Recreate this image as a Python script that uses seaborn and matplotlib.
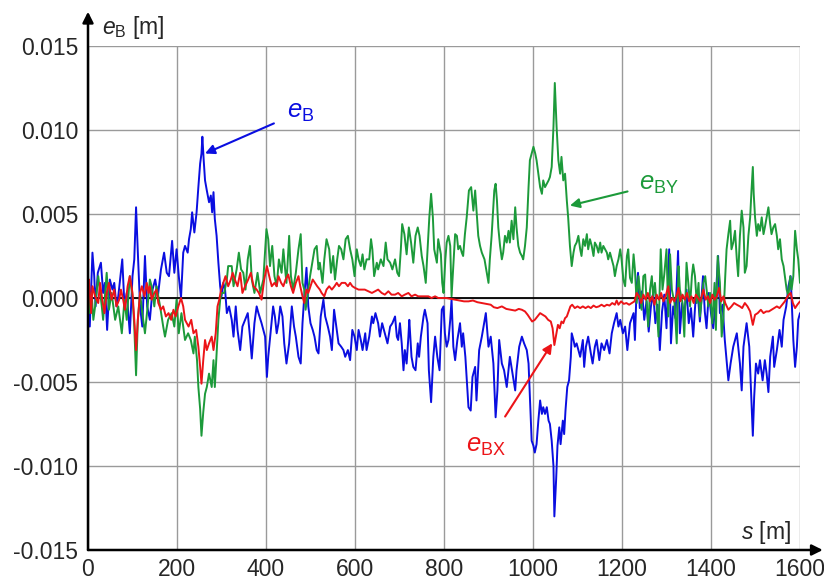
import numpy as np
import pandas as pd
import matplotlib
matplotlib.use("Agg")
import matplotlib.pyplot as plt
import seaborn as sns

# ---------------- data (s in m, e in mm) ----------------
blue_pts = [(0,-0.5),(4,-1.7),(10,2.7),(14,1.3),(17,-0.5),(22,1.5),(29,2.1),(34,0.3),(38,0.9),(43,-1.9),(49,1.1),(55,0.5),(59,0.9),(64,-0.5),(68,0.1),(77,2.3),(82,-0.5),(87,0.3),(94,-2.1),(100,1.3),(104,2.3),(108,5.4),(112,2.7),(117,-0.5),(122,-1.7),(128,2.5),(133,-0.5),(139,-1.3),(145,0.5),(151,1.1),(157,0.1),(164,1.7),(171,2.7),(177,1.5),(182,1.3),(189,3.4),(194,1.5),(199,2.9),(204,1.3),(209,0.0),(214,2.7),(218,3.1),(224,2.7),(227,3.5),(231,4.1),(234,5.1),(239,3.9),(244,5.1),(248,6.6),(252,8.0),(255,8.6),(257,9.6),(260,8.2),(263,7.0),(267,6.4),(272,5.7),(276,6.1),(279,5.1),(282,6.3),(285,4.7),(289,3.7),(293,2.1),(297,0.7),(300,0.1),(304,0.9),(308,0.5),(312,-0.9),(317,-0.5),(323,-1.3),(327,-2.3),(332,-0.5),(336,-1.9),(342,-3.1),(347,-1.7),(353,-1.3),(359,-0.9),(364,-2.3),(368,-3.6),(374,-1.5),(379,-0.5),(383,-0.9),(390,-1.5),(398,-2.3),(402,-4.7),(405,-3.5),(411,-1.9),(416,-0.5),(420,-1.1),(424,-2.1),(428,-1.5),(432,-0.5),(437,-1.1),(441,-2.7),(446,-3.9),(452,-2.7),(458,-0.5),(463,-1.7),(467,-2.3),(473,-3.5),(478,-3.9),(482,-1.5),(486,0.1),(491,1.8),(495,-0.5),(500,-1.5),(505,-1.9),(509,-2.3),(514,-3.1),(518,-3.3),(523,-1.1),(529,-0.1),(533,-1.1),(539,-1.7),(544,-2.3),(548,-3.1),(553,-0.7),(557,-1.5),(563,-2.7),(569,-2.9),(574,-3.1),(578,-3.5),(584,-3.1),(589,-3.7),(594,-1.9),(599,-2.3),(604,-3.1),(608,-1.9),(613,-2.5),(617,-3.1),(623,-2.1),(626,-3.1),(632,-2.3),(638,-1.1),(641,-1.5),(646,-0.9),(652,-1.5),(656,-2.3),(661,-1.5),(667,-2.1),(673,-2.7),(679,-1.7),(684,-1.5),(690,-1.1),(694,-2.3),(697,-2.5),(701,-1.5),(705,-2.7),(709,-4.3),(712,-3.1),(716,-3.9),(720,-2.3),(722,-1.3),(727,-3.5),(731,-4.1),(736,-4.3),(741,-2.7),(744,-3.5),(748,-2.3),(754,-1.1),(757,-0.7),(763,-1.5),(766,-4.3),(771,-6.2),(776,-3.5),(780,-2.3),(785,-3.5),(790,-4.3),(795,-0.7),(799,-0.5),(802,-2.1),(806,-2.9),(810,-2.5),(814,-1.3),(817,-0.1),(821,-2.9),(825,-3.7),(830,-2.5),(836,-1.5),(840,-2.9),(843,-2.1),(848,-3.5),(855,-6.5),(860,-6.7),(864,-4.7),(870,-4.1),(873,-6.1),(879,-3.1),(885,-2.3),(890,-1.5),(894,-0.9),(900,-2.9),(905,-2.3),(911,-3.9),(916,-7.1),(920,-5.5),(924,-2.5),(930,-3.9),(935,-4.3),(941,-5.3),(945,-4.3),(948,-3.5),(954,-4.5),(960,-5.5),(963,-4.3),(969,-2.9),(975,-2.3),(980,-2.7),(986,-3.1),(990,-3.9),(993,-5.9),(997,-8.5),(1001,-8.8),(1004,-9.2),(1008,-8.7),(1012,-7.3),(1016,-6.1),(1020,-6.9),(1023,-6.5),(1027,-6.9),(1031,-6.5),(1035,-7.3),(1038,-7.5),(1042,-8.5),(1046,-10.0),(1048,-13.0),(1052,-10.8),(1055,-8.8),(1059,-7.7),(1062,-8.7),(1067,-7.3),(1070,-8.1),(1073,-6.7),(1077,-5.3),(1081,-4.9),(1085,-3.5),(1087,-2.1),(1091,-2.5),(1094,-2.9),(1098,-2.7),(1106,-3.5),(1112,-2.5),(1115,-4.1),(1119,-2.9),(1124,-2.3),(1130,-3.3),(1134,-3.9),(1139,-2.9),(1143,-2.5),(1149,-3.7),(1154,-2.7),(1160,-3.1),(1166,-2.5),(1172,-3.3),(1177,-2.1),(1182,-1.5),(1188,-0.9),(1192,-1.7),(1196,-1.3),(1202,-2.1),(1207,-1.7),(1212,-3.1),(1218,-1.5),(1226,-0.9),(1229,-2.5),(1233,0.7),(1236,1.5),(1240,-0.6),(1245,0.4),(1250,-1.3),(1255,-0.2),(1260,-2.0),(1265,-0.5),(1270,0.3),(1275,-1.5),(1280,-0.4),(1285,-3.1),(1290,-0.8),(1295,0.2),(1300,-1.8),(1306,2.9),(1310,-2.7),(1315,-0.5),(1320,-1.2),(1326,2.8),(1330,-2.1),(1335,-0.3),(1340,-1.0),(1345,0.5),(1350,-1.5),(1355,-0.6),(1360,-2.3),(1365,-0.2),(1370,0.4),(1375,-1.4),(1382,1.3),(1386,-0.8),(1390,-1.8),(1395,0.3),(1400,-0.9),(1405,-1.8),(1410,-0.3),(1416,2.5),(1420,-0.9),(1426,-0.4),(1431,-2.5),(1439,-4.9),(1444,-3.9),(1450,-2.9),(1458,-2.1),(1465,-3.9),(1469,-5.5),(1473,-2.9),(1480,-1.5),(1486,-2.9),(1489,-4.9),(1494,-8.2),(1497,-5.9),(1501,-3.9),(1506,-4.5),(1510,-3.7),(1516,-4.9),(1521,-3.7),(1525,-4.5),(1529,-5.6),(1533,-3.5),(1539,-2.3),(1542,-4.1),(1548,-3.1),(1554,-1.9),(1559,-2.9),(1563,-1.3),(1569,-0.5),(1574,0.7),(1579,1.3),(1585,-2.5),(1589,-4.1),(1593,-2.9),(1596,-1.3),(1600,-0.9)]

green_pts = [(0,1.3),(4,-0.9),(8,0.3),(12,-1.3),(16,-0.5),(23,1.3),(31,-0.5),(34,-1.3),(42,1.5),(47,-0.7),(53,0.3),(61,-1.3),(68,-0.5),(76,-2.1),(82,-0.1),(87,-1.3),(94,1.3),(100,0.1),(104,-1.7),(108,-4.6),(112,-1.3),(117,0.3),(122,-0.9),(128,-2.1),(134,-0.5),(139,1.1),(143,0.7),(149,-0.5),(154,0.7),(162,-0.5),(169,-1.7),(173,-2.3),(180,-1.3),(188,-0.9),(194,-1.7),(199,-0.1),(204,-2.1),(210,-0.9),(218,-2.5),(225,-2.1),(231,-2.5),(237,-3.3),(240,-2.3),(245,-3.7),(248,-5.3),(252,-6.6),(255,-8.2),(259,-6.8),(263,-5.7),(267,-5.3),(272,-4.5),(278,-5.3),(282,-3.7),(285,-5.3),(289,-3.3),(293,-1.3),(297,-0.1),(300,0.3),(306,0.3),(312,1.1),(315,1.9),(323,1.9),(327,0.7),(334,1.7),(339,2.7),(344,1.7),(349,1.5),(354,0.5),(359,2.3),(364,3.1),(368,1.1),(374,0.3),(381,1.5),(387,0.3),(394,1.1),(401,4.1),(405,3.5),(409,1.9),(414,3.1),(419,1.3),(424,0.7),(429,2.3),(435,1.5),(439,2.9),(443,1.7),(446,0.9),(452,3.7),(456,1.3),(461,0.5),(467,1.5),(473,2.9),(478,3.8),(482,0.9),(486,0.5),(489,-0.7),(494,0.3),(499,1.3),(504,2.1),(509,2.9),(514,3.1),(518,1.7),(521,2.1),(527,0.9),(531,2.3),(536,3.5),(542,2.9),(546,1.5),(551,2.5),(555,1.1),(560,2.3),(564,3.1),(569,2.9),(574,2.3),(579,3.5),(584,3.7),(589,2.9),(594,2.3),(599,1.3),(604,2.9),(608,2.3),(613,1.9),(617,2.6),(621,1.7),(626,2.3),(632,2.3),(636,3.5),(639,2.9),(643,1.3),(649,2.1),(652,1.7),(658,2.3),(664,1.9),(669,3.3),(673,2.3),(679,2.1),(684,1.7),(690,2.3),(695,1.5),(699,1.3),(703,2.9),(706,4.4),(711,3.8),(716,2.6),(721,4.2),(726,3.3),(731,2.1),(736,3.7),(741,4.2),(745,3.7),(750,2.5),(754,1.9),(759,0.9),(763,2.9),(767,4.8),(771,6.2),(775,4.8),(778,2.9),(784,2.1),(787,3.5),(793,2.6),(796,0.9),(799,0.3),(803,2.3),(806,3.3),(810,3.7),(814,3.1),(817,0.1),(821,1.9),(825,3.8),(829,3.7),(832,2.9),(836,3.1),(840,2.7),(843,2.5),(847,3.8),(851,4.8),(856,6.4),(861,6.6),(866,5.2),(870,6.4),(873,5.2),(877,3.7),(881,3.1),(885,2.7),(891,2.3),(896,1.5),(900,0.9),(903,2.3),(907,3.7),(913,6.4),(916,6.8),(919,5.8),(922,4.2),(926,3.1),(930,2.3),(933,2.7),(937,3.7),(941,3.3),(945,4.0),(948,3.3),(952,4.6),(956,3.5),(960,5.4),(963,4.2),(967,3.1),(971,2.7),(975,2.5),(978,2.3),(982,3.1),(986,4.2),(990,6.6),(993,8.2),(997,8.6),(1001,9.0),(1005,8.6),(1008,8.2),(1012,7.4),(1016,6.6),(1020,6.2),(1023,7.0),(1027,6.6),(1031,6.8),(1035,7.0),(1038,7.2),(1042,7.8),(1046,10.2),(1049,12.8),(1053,10.2),(1057,8.2),(1061,7.4),(1064,8.4),(1068,7.0),(1072,7.4),(1076,5.8),(1079,4.8),(1083,3.1),(1087,1.9),(1091,2.7),(1094,3.1),(1098,3.3),(1102,3.7),(1106,2.9),(1109,2.5),(1113,3.5),(1117,3.1),(1121,3.8),(1124,2.9),(1128,3.5),(1132,3.1),(1136,2.5),(1139,3.3),(1143,3.1),(1147,2.7),(1151,3.3),(1154,2.7),(1158,3.1),(1162,2.9),(1166,2.7),(1169,2.3),(1173,2.7),(1177,2.3),(1181,1.9),(1184,1.3),(1188,1.9),(1192,2.3),(1196,2.9),(1199,2.3),(1203,1.1),(1207,0.7),(1211,2.5),(1214,2.9),(1218,1.2),(1222,0.9),(1226,2.6),(1229,1.7),(1233,-0.3),(1237,1.3),(1240,0.5),(1244,-0.7),(1248,1.3),(1252,1.4),(1255,-0.1),(1259,-1.7),(1263,0.5),(1267,1.3),(1270,0.1),(1274,0.9),(1278,-0.5),(1282,-2.3),(1287,2.9),(1291,0.5),(1295,1.4),(1300,2.9),(1304,-1.1),(1308,2.6),(1312,0.5),(1318,-0.3),(1323,-2.7),(1327,1.9),(1330,0.5),(1336,-0.3),(1340,-2.3),(1345,2.1),(1349,0.9),(1353,-0.5),(1357,1.3),(1360,2.0),(1364,1.3),(1368,-0.3),(1372,0.9),(1375,-1.1),(1379,-0.1),(1383,0.9),(1387,1.3),(1390,0.5),(1394,-0.5),(1398,0.3),(1403,-1.5),(1408,0.9),(1411,-1.9),(1415,2.5),(1420,0.9),(1424,-2.3),(1428,-1.1),(1432,1.3),(1435,2.9),(1439,3.8),(1443,4.6),(1446,2.9),(1450,3.3),(1454,4.0),(1458,2.3),(1461,1.3),(1465,3.7),(1469,5.2),(1473,4.2),(1476,1.5),(1480,1.9),(1484,3.7),(1488,4.8),(1491,6.4),(1494,7.8),(1496,6.2),(1499,4.8),(1503,3.7),(1506,4.4),(1510,4.0),(1514,4.8),(1518,3.8),(1521,4.2),(1525,4.8),(1529,5.4),(1533,4.4),(1536,3.8),(1540,4.2),(1544,4.4),(1548,3.7),(1551,2.9),(1555,3.5),(1559,2.3),(1563,1.9),(1566,1.3),(1570,0.5),(1574,0.1),(1578,1.3),(1581,0.5),(1585,1.3),(1589,4.0),(1593,2.9),(1596,2.3),(1600,0.9)]

red_pts = [(0,0.3),(2,1.1),(7,-0.9),(10,0.7),(16,0.1),(23,-0.3),(27,0.9),(32,-0.1),(37,-0.9),(42,0.3),(47,0.9),(53,-0.1),(59,0.5),(64,-0.5),(70,-0.1),(74,0.5),(79,-0.1),(83,-0.7),(89,0.7),(94,1.3),(100,0.3),(104,-1.3),(108,-3.1),(112,-1.3),(117,0.3),(121,0.7),(127,0.1),(132,0.9),(136,0.3),(139,0.7),(143,-0.1),(149,0.3),(154,0.5),(158,-0.3),(164,-0.7),(169,-0.5),(175,-1.1),(181,-0.9),(187,-1.3),(192,-0.7),(197,-1.1),(203,-0.5),(209,0.0),(214,-0.5),(218,-1.3),(226,-1.7),(232,-1.3),(237,-2.1),(243,-1.9),(248,-2.9),(252,-4.1),(255,-5.1),(259,-3.7),(263,-2.5),(267,-3.1),(272,-2.7),(278,-2.3),(282,-3.1),(287,-2.1),(291,-0.5),(295,-0.1),(299,0.5),(304,0.9),(309,1.3),(315,0.7),(321,1.1),(325,1.5),(330,1.1),(336,0.7),(342,1.5),(347,0.3),(353,0.7),(360,1.1),(366,1.5),(372,0.7),(379,0.5),(384,0.3),(390,-0.1),(396,1.1),(402,1.9),(409,1.1),(413,0.7),(419,0.9),(424,0.7),(428,1.3),(434,0.9),(439,0.7),(444,1.1),(450,1.4),(456,0.7),(461,0.3),(467,0.9),(473,1.3),(477,0.7),(482,0.1),(486,-0.3),(491,0.5),(495,0.3),(500,0.7),(505,1.1),(510,0.9),(515,0.7),(521,0.5),(525,0.3),(531,0.1),(536,0.5),(542,0.7),(548,0.5),(554,0.7),(559,0.9),(564,0.7),(570,0.9),(578,0.9),(584,0.7),(589,0.9),(594,0.7),(600,0.6),(608,0.5),(615,0.5),(622,0.5),(630,0.4),(638,0.3),(645,0.4),(652,0.5),(660,0.3),(667,0.2),(675,0.4),(682,0.2),(690,0.2),(697,0.3),(705,0.1),(712,0.2),(720,0.3),(727,0.1),(735,0.2),(742,0.1),(750,0.1),(757,0.1),(765,0.1),(772,0.0),(780,0.1),(787,0.0),(795,0.0),(805,0.0),(815,-0.05),(825,-0.1),(835,-0.15),(845,-0.2),(855,-0.2),(865,-0.15),(875,-0.25),(885,-0.3),(895,-0.35),(905,-0.4),(912,-0.55),(920,-0.6),(930,-0.5),(940,-0.65),(950,-0.7),(960,-0.75),(968,-0.65),(975,-0.7),(982,-0.8),(988,-1.0),(993,-1.2),(998,-1.4),(1004,-1.3),(1010,-1.1),(1016,-0.9),(1022,-1.0),(1028,-1.1),(1034,-1.3),(1040,-1.4),(1044,-1.8),(1048,-2.8),(1052,-2.2),(1056,-1.6),(1060,-1.8),(1064,-1.4),(1068,-1.5),(1072,-1.2),(1076,-1.1),(1080,-0.8),(1084,-0.5),(1088,-0.4),(1094,-0.6),(1100,-0.5),(1106,-0.6),(1112,-0.5),(1118,-0.6),(1124,-0.5),(1130,-0.6),(1136,-0.45),(1142,-0.55),(1148,-0.5),(1154,-0.4),(1160,-0.5),(1166,-0.4),(1172,-0.45),(1178,-0.3),(1184,-0.4),(1188,-0.15),(1192,-0.4),(1198,-0.2),(1204,-0.35),(1210,-0.3),(1216,-0.4),(1222,-0.3),(1228,-0.2),(1233,0.3),(1238,0.1),(1243,-0.3),(1248,0.2),(1253,-0.1),(1258,0.3),(1263,-0.2),(1268,0.1),(1273,-0.4),(1278,0.2),(1283,-0.1),(1288,0.3),(1293,-0.2),(1298,0.1),(1304,0.7),(1308,-0.3),(1313,0.0),(1318,-0.2),(1322,0.1),(1327,0.6),(1331,-0.2),(1336,0.2),(1341,-0.1),(1346,0.3),(1351,-0.2),(1356,0.1),(1361,-0.3),(1366,0.2),(1371,0.0),(1376,-0.2),(1383,0.5),(1388,-0.1),(1393,0.1),(1398,-0.3),(1403,0.2),(1408,-0.1),(1413,0.1),(1418,0.6),(1423,-0.2),(1428,0.1),(1432,-0.3),(1439,-0.7),(1446,-0.5),(1452,-0.3),(1458,-0.4),(1465,-0.5),(1470,-0.6),(1476,-0.3),(1482,-0.5),(1488,-0.8),(1494,-1.6),(1499,-1.0),(1505,-0.9),(1512,-0.7),(1518,-0.9),(1524,-0.8),(1530,-0.8),(1536,-0.7),(1542,-0.6),(1548,-0.5),(1554,-0.6),(1560,-0.4),(1566,-0.2),(1570,0.0),(1575,0.2),(1579,0.3),(1584,-0.3),(1589,-0.6),(1594,-0.4),(1600,-0.2)]

x_ticks = [0, 200, 400, 600, 800, 1000, 1200, 1400, 1600]
y_ticks = [-0.015, -0.010, -0.005, 0.000, 0.005, 0.010, 0.015]

C_B = "#0a0ee0"
C_BY = "#1c9a3a"
C_BX = "#ec1418"

# ---------------- style ----------------
sns.set_style("white")
plt.rcParams["font.family"] = ["Liberation Sans", "DejaVu Sans"]
plt.rcParams["mathtext.fontset"] = "custom"
plt.rcParams["mathtext.rm"] = "Liberation Sans"
plt.rcParams["mathtext.it"] = "Liberation Sans:italic"
plt.rcParams["axes.unicode_minus"] = False

fig = plt.figure(figsize=(8.24, 5.8), dpi=100)
ax = fig.add_axes([88/824, 1-550/580, 712/824, 504/580])

def frame(pts):
    df = pd.DataFrame(pts, columns=["s", "e_mm"])
    df["e"] = df["e_mm"] / 1000.0
    return df

for pts, col in [(blue_pts, C_B), (green_pts, C_BY), (red_pts, C_BX)]:
    sns.lineplot(data=frame(pts), x="s", y="e", ax=ax, color=col,
                 linewidth=1.4, estimator=None, sort=False, zorder=3)

ax.set_xlim(0, 1600)
ax.set_ylim(-0.015, 0.015)
ax.set_xticks(x_ticks)
ax.set_yticks(y_ticks)
ax.set_xticklabels([str(v) for v in x_ticks])
ax.set_yticklabels([f"{v:.3f}" for v in y_ticks])
ax.set_xlabel("")
ax.set_ylabel("")
ax.tick_params(axis="both", labelsize=16.5, length=5, width=1, color="#333333",
               direction="out")
ax.tick_params(axis="x", pad=1)
ax.tick_params(axis="y", pad=2)

ax.grid(True, color="#9a9a9a", linewidth=1.0, zorder=0)
ax.set_axisbelow(True)
ax.axhline(0, color="black", linewidth=1.3, zorder=2)

for sp in ax.spines.values():
    sp.set_visible(False)

# axis arrows
ax.annotate("", xy=(0, 1.068), xytext=(0, 0), xycoords="axes fraction",
            textcoords="axes fraction", annotation_clip=False,
            arrowprops=dict(arrowstyle="-|>", color="black", lw=1.8,
                            mutation_scale=16, shrinkA=0, shrinkB=0))
ax.annotate("", xy=(1.032, 0), xytext=(0, 0), xycoords="axes fraction",
            textcoords="axes fraction", annotation_clip=False,
            arrowprops=dict(arrowstyle="-|>", color="black", lw=1.8,
                            mutation_scale=16, shrinkA=0, shrinkB=0))

ax.text(0.02, 1.036, r"$e_{\mathrm{B}}$ [m]", transform=ax.transAxes,
        fontsize=16.5, ha="left", va="center")
ax.text(0.987, 0.034, r"$s$ [m]", transform=ax.transAxes,
        fontsize=16.5, ha="right", va="center")

# series annotations
ax.annotate(r"$e_{\mathrm{B}}$", xy=(263, 0.0086), xytext=(448, 0.0111),
            color=C_B, fontsize=18.5, ha="left", va="center",
            arrowprops=dict(arrowstyle="-|>", color=C_B, lw=1.5,
                            mutation_scale=14, shrinkA=8, shrinkB=0))
ax.annotate(r"$e_{\mathrm{BY}}$", xy=(1083, 0.0055), xytext=(1238, 0.0068),
            color=C_BY, fontsize=18.5, ha="left", va="center",
            arrowprops=dict(arrowstyle="-|>", color=C_BY, lw=1.5,
                            mutation_scale=14, shrinkA=6, shrinkB=0))
ax.annotate(r"$e_{\mathrm{BX}}$", xy=(1043, -0.0027), xytext=(895, -0.0088),
            color=C_BX, fontsize=18.5, ha="center", va="center",
            arrowprops=dict(arrowstyle="-|>", color=C_BX, lw=1.5,
                            mutation_scale=14, shrinkA=12, shrinkB=0))

fig.savefig("out.png", dpi=100)
